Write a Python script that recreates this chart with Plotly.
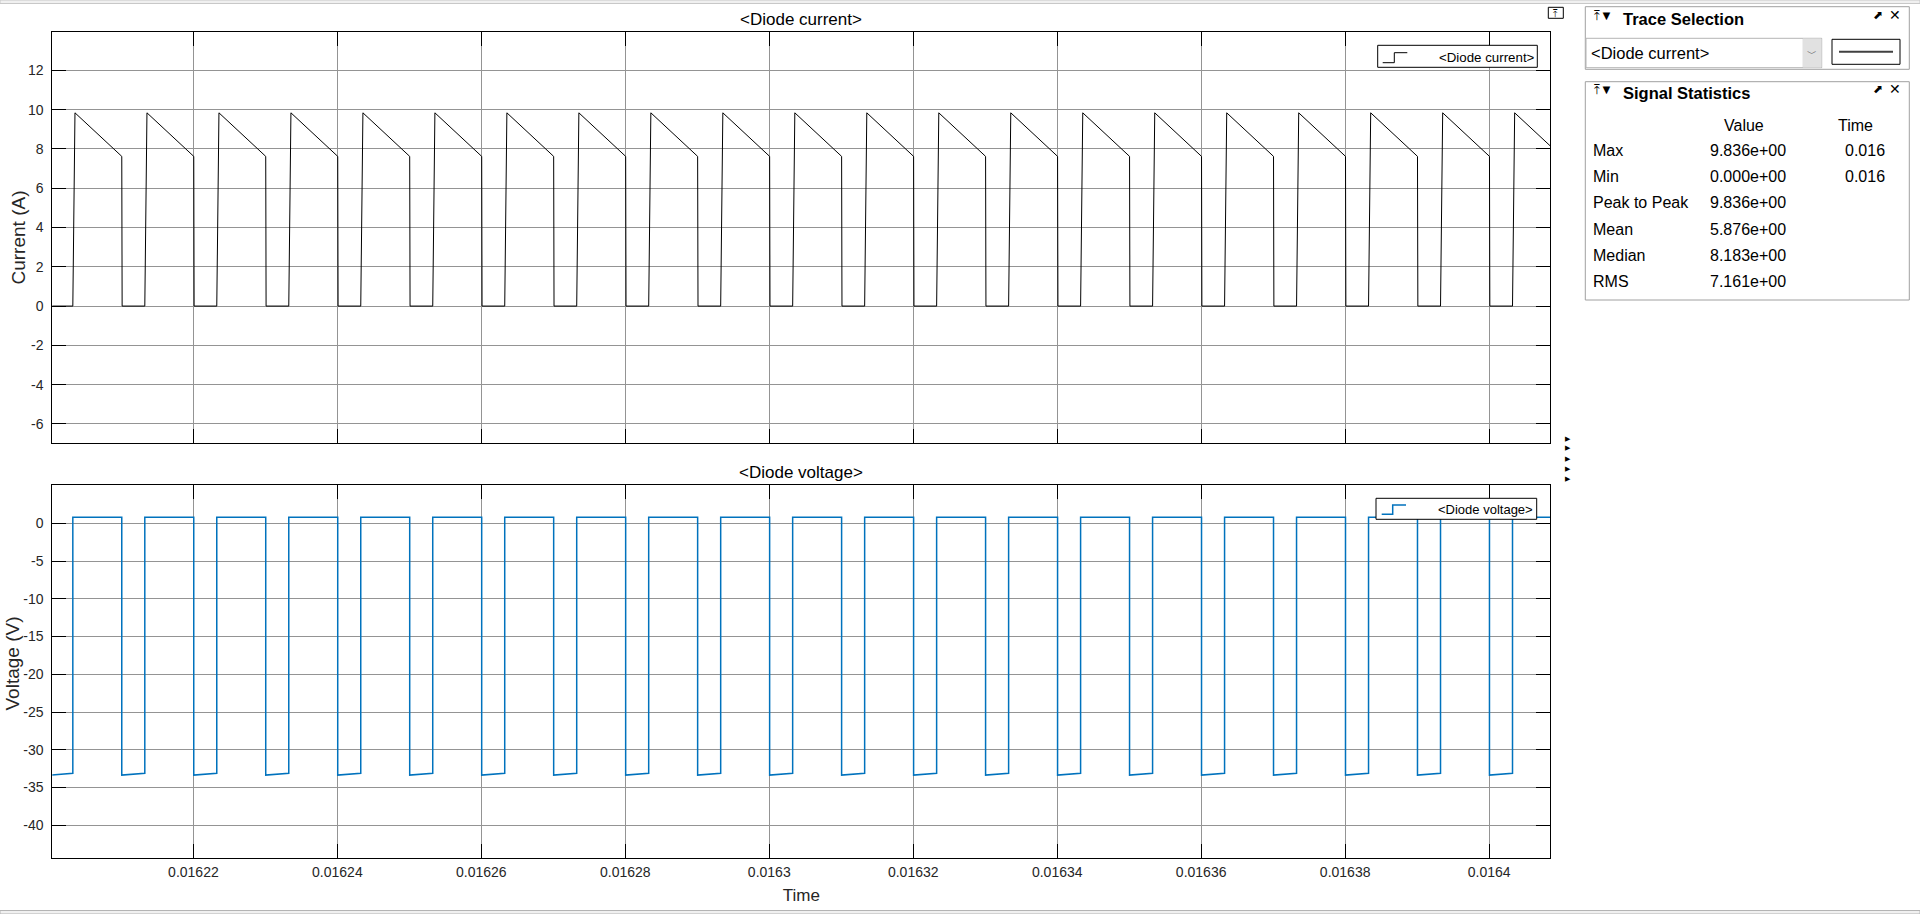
import plotly.graph_objects as go

# ---------------- data ----------------
# per switching cycle: time the diode starts conducting, time the current peak
# is reached, time it turns off and time the current is back at zero (s)
cycle_rise_t = [0.01619325, 0.01620325, 0.01621325, 0.01622325, 0.01623325, 0.01624325,
                0.01625325, 0.01626325, 0.01627325, 0.01628325, 0.01629325, 0.01630325,
                0.01631325, 0.01632325, 0.01633325, 0.01634325, 0.01635325, 0.01636325,
                0.01637325, 0.01638325, 0.01639325, 0.01640325]
cycle_peak_t = [0.01619355, 0.01620355, 0.01621355, 0.01622355, 0.01623355, 0.01624355,
                0.01625355, 0.01626355, 0.01627355, 0.01628355, 0.01629355, 0.01630355,
                0.01631355, 0.01632355, 0.01633355, 0.01634355, 0.01635355, 0.01636355,
                0.01637355, 0.01638355, 0.01639355, 0.01640355]
cycle_fall_t = [0.01620005, 0.01621005, 0.01622005, 0.01623005, 0.01624005, 0.01625005,
                0.01626005, 0.01627005, 0.01628005, 0.01629005, 0.01630005, 0.01631005,
                0.01632005, 0.01633005, 0.01634005, 0.01635005, 0.01636005, 0.01637005,
                0.01638005, 0.01639005, 0.01640005, 0.01641005]
cycle_zero_t = [0.01620010, 0.01621010, 0.01622010, 0.01623010, 0.01624010, 0.01625010,
                0.01626010, 0.01627010, 0.01628010, 0.01629010, 0.01630010, 0.01631010,
                0.01632010, 0.01633010, 0.01634010, 0.01635010, 0.01636010, 0.01637010,
                0.01638010, 0.01639010, 0.01640010, 0.01641010]

current_peak = [9.836] * len(cycle_rise_t)        # A, at turn-on
current_end = [7.62] * len(cycle_rise_t)          # A, just before turn-off
voltage_on = [0.8] * len(cycle_rise_t)            # V, forward drop
voltage_off_start = [-33.35] * len(cycle_rise_t)  # V, right after turn-off
voltage_off_end = [-33.10] * len(cycle_rise_t)    # V, right before turn-on

x_tick_vals = [0.01622, 0.01624, 0.01626, 0.01628, 0.0163, 0.01632, 0.01634,
               0.01636, 0.01638, 0.0164]
x_tick_text = ["0.01622", "0.01624", "0.01626", "0.01628", "0.0163", "0.01632",
               "0.01634", "0.01636", "0.01638", "0.0164"]
y1_tick_vals = [-6, -4, -2, 0, 2, 4, 6, 8, 10, 12]
y1_tick_text = ["-6", "-4", "-2", "0", "2", "4", "6", "8", "10", "12"]
y2_tick_vals = [-40, -35, -30, -25, -20, -15, -10, -5, 0]
y2_tick_text = ["-40", "-35", "-30", "-25", "-20", "-15", "-10", "-5", "0"]

stat_names = ["Max", "Min", "Peak to Peak", "Mean", "Median", "RMS"]
stat_values = ["9.836e+00", "0.000e+00", "9.836e+00", "5.876e+00", "8.183e+00", "7.161e+00"]
stat_times = ["0.016", "0.016", "", "", "", ""]

series_names = ["<Diode current>", "<Diode voltage>"]
series_colors = ["#000000", "#0072BD"]

# ---------------- build the piecewise-linear waveforms ----------------
t_i, i_vals, t_v, v_vals = [], [], [], []
for k in range(len(cycle_rise_t)):
    t_i += [cycle_rise_t[k], cycle_peak_t[k], cycle_fall_t[k], cycle_zero_t[k]]
    i_vals += [0.0, current_peak[k], current_end[k], 0.0]
    t_v += [cycle_rise_t[k], cycle_rise_t[k], cycle_fall_t[k], cycle_fall_t[k]]
    v_vals += [voltage_off_end[k], voltage_on[k], voltage_on[k], voltage_off_start[k]]

W, H = 1920, 914
FONT = "Liberation Sans, Arial, sans-serif"


def px(x):
    return x / W


def py(y):
    return 1 - y / H


def esc(s):
    return s.replace("<", "&lt;").replace(">", "&gt;")


fig = go.Figure()
fig.add_trace(go.Scatter(x=t_i, y=i_vals, mode="lines", name=series_names[0],
                         line=dict(color=series_colors[0], width=1), xaxis="x", yaxis="y"))
fig.add_trace(go.Scatter(x=t_v, y=v_vals, mode="lines", name=series_names[1],
                         line=dict(color=series_colors[1], width=1.5), xaxis="x2", yaxis="y2"))

x_range = [0.0162004, 0.0164085]
common_axis = dict(showline=True, linecolor="#000000", linewidth=1, mirror="ticks",
                   ticks="inside", ticklen=14, tickcolor="#000000", tickwidth=1,
                   showgrid=True, gridcolor="#949494", gridwidth=1, zeroline=False,
                   tickfont=dict(family=FONT, size=14, color="#262626"))

fig.update_layout(
    width=W, height=H, margin=dict(l=0, r=0, t=0, b=0),
    paper_bgcolor="white", plot_bgcolor="white",
    font=dict(family=FONT, color="#000000"),
    showlegend=False,
    xaxis=dict(domain=[px(52.3), px(1550.3)], range=x_range, anchor="y",
               tickvals=x_tick_vals, ticktext=x_tick_text, showticklabels=False,
               **common_axis),
    yaxis=dict(domain=[py(443), py(32)], range=[-6.97, 13.95], anchor="x",
               tickvals=y1_tick_vals, ticktext=y1_tick_text, ticklabelstandoff=5,
               **common_axis),
    xaxis2=dict(domain=[px(52.3), px(1550.3)], range=x_range, anchor="y2",
                tickvals=x_tick_vals, ticktext=x_tick_text, ticklabelstandoff=1,
                title=dict(text="Time", font=dict(family=FONT, size=17, color="#262626"),
                           standoff=9.5),
                **common_axis),
    yaxis2=dict(domain=[py(858), py(485.3)], range=[-44.33, 5.03], anchor="x2",
                tickvals=y2_tick_vals, ticktext=y2_tick_text, ticklabelstandoff=5,
                **common_axis),
)

shapes = []
annotations = []


def rect(x0, y0, x1, y1, line="#a0a0a0", fill="rgba(0,0,0,0)", lw=1):
    shapes.append(dict(type="rect", xref="paper", yref="paper", x0=px(x0), x1=px(x1),
                       y0=py(y1), y1=py(y0), line=dict(color=line, width=lw),
                       fillcolor=fill, layer="above"))


def polyline(pts, color, width):
    path = "M " + " L ".join(f"{px(x):.6f},{py(y):.6f}" for x, y in pts)
    shapes.append(dict(type="path", xref="paper", yref="paper", path=path,
                       line=dict(color=color, width=width), layer="above"))


def text(x, y, s, size=16, bold=False, anchor="left", color="#000000", angle=0):
    annotations.append(dict(xref="paper", yref="paper", x=px(x), y=py(y),
                            text=(f"<b>{s}</b>" if bold else s), textangle=angle,
                            showarrow=False, xanchor=anchor, yanchor="middle",
                            font=dict(family=FONT, size=size, color=color)))


# plot titles and y-axis labels
text(801, 19, esc(series_names[0]), size=17, anchor="center")
text(801, 473, esc(series_names[1]), size=17, anchor="center")
text(18, 237.5, "Current (A)", size=19, anchor="center", color="#262626", angle=-90)
text(11.5, 664, "Voltage (V)", size=19, anchor="center", color="#262626", angle=-90)

# MATLAB-style legends (box, step icon, name)
rect(1377.7, 45.3, 1537.3, 67.3, line="#000000", fill="white")
polyline([(1382.7, 62.7), (1394.3, 62.7), (1394.3, 52.7), (1407.3, 52.7)], series_colors[0], 1)
text(1436.5, 57.5, esc(series_names[0]), size=13.3)
rect(1376, 498.3, 1536.7, 519.3, line="#000000", fill="white")
polyline([(1381.7, 514.3), (1392.7, 514.3), (1392.7, 505), (1406, 505)], series_colors[1], 1.5)
text(1435.5, 509.5, esc(series_names[1]), size=13)

# window chrome: top and bottom strips
rect(0, 0, 1920, 3.5, line="#c8c8c8", fill="#f0f0f0")
rect(0, 910.5, 1920, 914, line="#b4b4b4", fill="#f0f0f0")

# small undock icon above the top plot
rect(1548.3, 7.3, 1563.3, 18.3, line="#000000", fill="white")
text(1555.8, 13, "⤒", size=10, anchor="center")

# expander triangles between the plots and the panels
for yy in [438, 448, 458, 468, 478]:
    text(1568, yy, "▶", size=7, anchor="center")

# Trace Selection panel
rect(1585.3, 6.7, 1909.3, 69.3)
text(1592, 16, "⤒▼", size=13)
text(1621, 19, "Trace Selection", size=16.5, bold=True)
text(1878, 15, "⬈", size=12, anchor="center")
text(1895, 15, "✕", size=14, anchor="center")
rect(1586, 38.3, 1821.7, 67.7, line="#b4b4b4", fill="white")
rect(1803, 39, 1821, 67, line="#e1e1e1", fill="#e1e1e1")
text(1812, 53, "﹀", size=10, anchor="center", color="#606060")
text(1589, 53.3, esc(series_names[0]), size=16.5)
rect(1832, 39.3, 1900, 64.3, line="#000000", fill="white")
shapes.append(dict(type="line", xref="paper", yref="paper", x0=px(1839), x1=px(1893),
                   y0=py(51.7), y1=py(51.7), line=dict(color="#404040", width=2), layer="above"))

# Signal Statistics panel
rect(1585.3, 81.7, 1909.3, 300)
text(1592, 90, "⤒▼", size=13)
text(1621, 93.3, "Signal Statistics", size=16.5, bold=True)
text(1878, 89, "⬈", size=12, anchor="center")
text(1895, 89, "✕", size=14, anchor="center")
text(1744.3, 125.3, "Value", size=16, anchor="center")
text(1855, 125.3, "Time", size=16, anchor="center")
row_y = [151, 176.7, 203, 229.3, 255.3, 281]
for name, val, tm, yy in zip(stat_names, stat_values, stat_times, row_y):
    text(1591, yy, name, size=16)
    text(1708.3, yy, val, size=16)
    if tm:
        text(1842.7, yy, tm, size=16)

fig.update_layout(shapes=shapes, annotations=annotations)

fig.write_html("out.html", config={"displayModeBar": False},
               post_script="document.body.style.margin='0';document.body.style.overflow='hidden';")
